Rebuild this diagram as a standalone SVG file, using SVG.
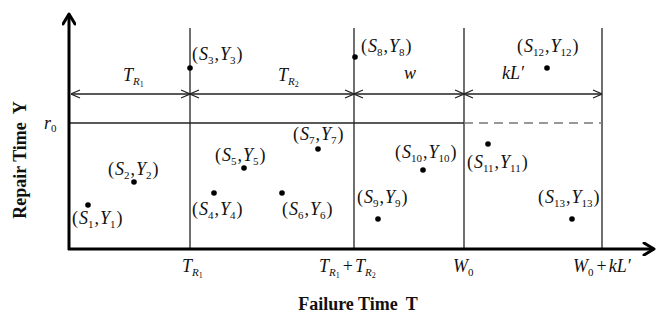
<svg xmlns="http://www.w3.org/2000/svg" width="657" height="323" viewBox="0 0 657 323">
<style>
text{font-family:"Liberation Serif","Times New Roman",serif;fill:#111}
.lb{font-size:18px}
.i{font-style:italic}
.sb{font-size:11px}
.ss{font-size:8px}
.ax{font-size:18px;font-weight:bold}
.grid{stroke:#222;stroke-width:1.3;fill:none}
.dot{fill:#000}
</style>
<defs>
<marker id="v" viewBox="0 0 10 10" refX="10" refY="5" markerWidth="10" markerHeight="10" markerUnits="userSpaceOnUse" orient="auto-start-reverse">
<path d="M1,1 L10,5 L1,9" fill="none" stroke="#222" stroke-width="1.2"/>
</marker>
<marker id="big" viewBox="0 0 14 14" refX="12" refY="7" markerWidth="14" markerHeight="14" markerUnits="userSpaceOnUse" orient="auto">
<path d="M2,1 L12,7 L2,13" fill="none" stroke="#000" stroke-width="3" stroke-linecap="round" stroke-linejoin="round"/>
</marker>
</defs>
<g id="connectors">
<line class="grid" x1="190" y1="28" x2="190" y2="249"/>
<line class="grid" x1="354" y1="28" x2="354" y2="249"/>
<line class="grid" x1="464" y1="28" x2="464" y2="249"/>
<line class="grid" x1="602" y1="28" x2="602" y2="249"/>
<line class="grid" x1="70" y1="123" x2="464" y2="123"/>
<line x1="464" y1="123" x2="602" y2="123" stroke="#777" stroke-width="1.3" stroke-dasharray="9,6"/>
<line class="grid" x1="71" y1="94" x2="190" y2="94" marker-start="url(#v)" marker-end="url(#v)"/>
<line class="grid" x1="190" y1="94" x2="354" y2="94" marker-start="url(#v)" marker-end="url(#v)"/>
<line class="grid" x1="354" y1="94" x2="464" y2="94" marker-start="url(#v)" marker-end="url(#v)"/>
<line class="grid" x1="464" y1="94" x2="602" y2="94" marker-start="url(#v)" marker-end="url(#v)"/>
</g>
<g id="axes">
<line x1="69" y1="250" x2="69" y2="14" stroke="#000" stroke-width="3" marker-end="url(#big)"/>
<line x1="68" y1="249" x2="654" y2="249" stroke="#000" stroke-width="3" marker-end="url(#big)"/>
<text class="ax" x="358" y="310" text-anchor="middle">Failure Time <tspan dx="4">T</tspan></text>
<text class="ax" transform="translate(26,160) rotate(-90)" text-anchor="middle">Repair Time <tspan dx="4">Y</tspan></text>
</g>
<g id="intervals">
<text class="lb" x="123" y="81"><tspan class="i">T</tspan><tspan class="sb i" dy="4">R</tspan><tspan class="ss" dy="2">1</tspan></text>
<text class="lb" x="278" y="81"><tspan class="i">T</tspan><tspan class="sb i" dy="4">R</tspan><tspan class="ss" dy="2">2</tspan></text>
<text class="lb i" x="404" y="79">w</text>
<text class="lb i" x="502" y="79">kL′</text>
<text class="lb" x="44" y="129"><tspan class="i">r</tspan><tspan class="sb" dy="3">0</tspan></text>
</g>
<g id="ticks">
<text class="lb" x="182" y="272"><tspan class="i">T</tspan><tspan class="sb i" dy="4">R</tspan><tspan class="ss" dy="2">1</tspan></text>
<text class="lb" x="319" y="272"><tspan class="i">T</tspan><tspan class="sb i" dy="4">R</tspan><tspan class="ss" dy="2">1</tspan><tspan dy="-6" dx="3">+</tspan><tspan class="i" dx="2">T</tspan><tspan class="sb i" dy="4">R</tspan><tspan class="ss" dy="2">2</tspan></text>
<text class="lb" x="453" y="272"><tspan class="i">W</tspan><tspan class="sb" dy="4">0</tspan></text>
<text class="lb" x="573" y="272"><tspan class="i">W</tspan><tspan class="sb" dy="4">0</tspan><tspan dy="-4" dx="3">+</tspan><tspan class="i" dx="2">kL′</tspan></text>
</g>
<g id="p1"><circle class="dot" cx="88" cy="205" r="2.8"/><text class="lb" x="72" y="224">(<tspan class="i" dx="1">S</tspan><tspan class="sb" dy="4">1</tspan><tspan dy="-4" dx="1">,</tspan><tspan class="i" dx="1">Y</tspan><tspan class="sb" dy="4">1</tspan><tspan dy="-4" dx="1">)</tspan></text></g>
<g id="p2"><circle class="dot" cx="134" cy="182" r="2.8"/><text class="lb" x="108" y="175">(<tspan class="i" dx="1">S</tspan><tspan class="sb" dy="4">2</tspan><tspan dy="-4" dx="1">,</tspan><tspan class="i" dx="1">Y</tspan><tspan class="sb" dy="4">2</tspan><tspan dy="-4" dx="1">)</tspan></text></g>
<g id="p3"><circle class="dot" cx="190" cy="68" r="2.8"/><text class="lb" x="192" y="60">(<tspan class="i" dx="1">S</tspan><tspan class="sb" dy="4">3</tspan><tspan dy="-4" dx="1">,</tspan><tspan class="i" dx="1">Y</tspan><tspan class="sb" dy="4">3</tspan><tspan dy="-4" dx="1">)</tspan></text></g>
<g id="p4"><circle class="dot" cx="214" cy="193" r="2.8"/><text class="lb" x="192" y="215">(<tspan class="i" dx="1">S</tspan><tspan class="sb" dy="4">4</tspan><tspan dy="-4" dx="1">,</tspan><tspan class="i" dx="1">Y</tspan><tspan class="sb" dy="4">4</tspan><tspan dy="-4" dx="1">)</tspan></text></g>
<g id="p5"><circle class="dot" cx="244" cy="168" r="2.8"/><text class="lb" x="215" y="161">(<tspan class="i" dx="1">S</tspan><tspan class="sb" dy="4">5</tspan><tspan dy="-4" dx="1">,</tspan><tspan class="i" dx="1">Y</tspan><tspan class="sb" dy="4">5</tspan><tspan dy="-4" dx="1">)</tspan></text></g>
<g id="p6"><circle class="dot" cx="282" cy="193" r="2.8"/><text class="lb" x="282" y="215">(<tspan class="i" dx="1">S</tspan><tspan class="sb" dy="4">6</tspan><tspan dy="-4" dx="1">,</tspan><tspan class="i" dx="1">Y</tspan><tspan class="sb" dy="4">6</tspan><tspan dy="-4" dx="1">)</tspan></text></g>
<g id="p7"><circle class="dot" cx="318" cy="149" r="2.8"/><text class="lb" x="293" y="140">(<tspan class="i" dx="1">S</tspan><tspan class="sb" dy="4">7</tspan><tspan dy="-4" dx="1">,</tspan><tspan class="i" dx="1">Y</tspan><tspan class="sb" dy="4">7</tspan><tspan dy="-4" dx="1">)</tspan></text></g>
<g id="p8"><circle class="dot" cx="355" cy="57" r="2.8"/><text class="lb" x="361" y="52">(<tspan class="i" dx="1">S</tspan><tspan class="sb" dy="4">8</tspan><tspan dy="-4" dx="1">,</tspan><tspan class="i" dx="1">Y</tspan><tspan class="sb" dy="4">8</tspan><tspan dy="-4" dx="1">)</tspan></text></g>
<g id="p9"><circle class="dot" cx="378" cy="219" r="2.8"/><text class="lb" x="357" y="203">(<tspan class="i" dx="1">S</tspan><tspan class="sb" dy="4">9</tspan><tspan dy="-4" dx="1">,</tspan><tspan class="i" dx="1">Y</tspan><tspan class="sb" dy="4">9</tspan><tspan dy="-4" dx="1">)</tspan></text></g>
<g id="p10"><circle class="dot" cx="423" cy="170" r="2.8"/><text class="lb" x="395" y="158">(<tspan class="i" dx="1">S</tspan><tspan class="sb" dy="4">10</tspan><tspan dy="-4" dx="1">,</tspan><tspan class="i" dx="1">Y</tspan><tspan class="sb" dy="4">10</tspan><tspan dy="-4" dx="1">)</tspan></text></g>
<g id="p11"><circle class="dot" cx="488" cy="144" r="2.8"/><text class="lb" x="467" y="168">(<tspan class="i" dx="1">S</tspan><tspan class="sb" dy="4">11</tspan><tspan dy="-4" dx="1">,</tspan><tspan class="i" dx="1">Y</tspan><tspan class="sb" dy="4">11</tspan><tspan dy="-4" dx="1">)</tspan></text></g>
<g id="p12"><circle class="dot" cx="547" cy="68" r="2.8"/><text class="lb" x="517" y="52">(<tspan class="i" dx="1">S</tspan><tspan class="sb" dy="4">12</tspan><tspan dy="-4" dx="1">,</tspan><tspan class="i" dx="1">Y</tspan><tspan class="sb" dy="4">12</tspan><tspan dy="-4" dx="1">)</tspan></text></g>
<g id="p13"><circle class="dot" cx="572" cy="219" r="2.8"/><text class="lb" x="538" y="203">(<tspan class="i" dx="1">S</tspan><tspan class="sb" dy="4">13</tspan><tspan dy="-4" dx="1">,</tspan><tspan class="i" dx="1">Y</tspan><tspan class="sb" dy="4">13</tspan><tspan dy="-4" dx="1">)</tspan></text></g>
</svg>
